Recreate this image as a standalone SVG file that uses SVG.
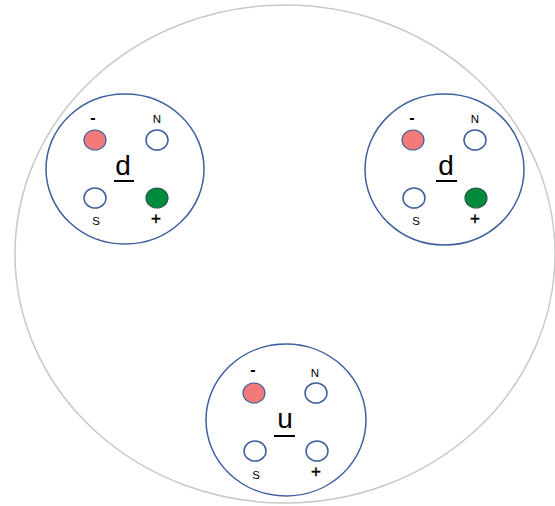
<svg xmlns="http://www.w3.org/2000/svg" width="555" height="506" viewBox="0 0 555 506">
<style>
.outer{fill:none;stroke:#c8c8c8;stroke-width:1.5}
.node{fill:#fff;stroke:#3f5f9f;stroke-width:1.5}
.hole{fill:#fff;stroke:#3f5f9f;stroke-width:1.5}
.neg{fill:#f47a7a;stroke:#3f5f9f;stroke-width:1.2}
.pos{fill:#008a3c;stroke:#2a5a4a;stroke-width:1.2}
.sm{font-family:"Liberation Sans",Arial,sans-serif;font-size:11.5px;fill:#000;text-anchor:middle}
.dash{font-family:"Liberation Sans",Arial,sans-serif;font-size:16px;font-weight:bold;fill:#000;text-anchor:middle}
.plus{font-family:"Liberation Sans",Arial,sans-serif;font-size:17px;fill:#000;stroke:#000;stroke-width:0.4;text-anchor:middle}
.big{font-family:"Liberation Sans",Arial,sans-serif;font-size:28px;fill:#000;text-anchor:middle}
.ul{stroke:#000;stroke-width:2}
</style>
<rect width="555" height="506" fill="#fff"/>
<ellipse class="outer" cx="285" cy="254" rx="270" ry="249"/>
<g id="connectors"></g>
<g id="d_left">
<ellipse class="node" cx="125" cy="169" rx="79" ry="75"/>
<ellipse class="neg" cx="95" cy="140" rx="11" ry="10"/>
<ellipse class="hole" cx="157" cy="140" rx="11" ry="10"/>
<ellipse class="hole" cx="95" cy="198" rx="11" ry="10"/>
<ellipse class="pos" cx="157" cy="198" rx="11" ry="10"/>
<text class="dash" x="93" y="123">-</text>
<text class="sm" x="157" y="123">N</text>
<text class="sm" x="96" y="225">S</text>
<text class="plus" x="156" y="224">+</text>
<text class="big" x="123" y="175">d</text>
<line class="ul" x1="114" y1="181" x2="134" y2="181"/>
</g>
<g id="d_right">
<ellipse class="node" cx="444.5" cy="169.5" rx="79.5" ry="75.5"/>
<ellipse class="neg" cx="413" cy="140" rx="11" ry="10"/>
<ellipse class="hole" cx="475" cy="140" rx="11" ry="10"/>
<ellipse class="hole" cx="414" cy="198" rx="11" ry="10"/>
<ellipse class="pos" cx="476" cy="198" rx="11" ry="10"/>
<text class="dash" x="412" y="123">-</text>
<text class="sm" x="475" y="123">N</text>
<text class="sm" x="416" y="225">S</text>
<text class="plus" x="475" y="224">+</text>
<text class="big" x="446" y="175">d</text>
<line class="ul" x1="436" y1="181" x2="457" y2="181"/>
</g>
<g id="u_bottom">
<ellipse class="node" cx="286" cy="420" rx="80" ry="76"/>
<ellipse class="neg" cx="254" cy="393" rx="11" ry="10"/>
<ellipse class="hole" cx="316" cy="393" rx="11" ry="10"/>
<ellipse class="hole" cx="255" cy="451" rx="11" ry="10"/>
<ellipse class="hole" cx="317" cy="451" rx="11" ry="10"/>
<text class="dash" x="253" y="375">-</text>
<text class="sm" x="315" y="377">N</text>
<text class="sm" x="256" y="479">S</text>
<text class="plus" x="316" y="477">+</text>
<text class="big" x="285" y="428">u</text>
<line class="ul" x1="274" y1="436" x2="295" y2="436"/>
</g>
</svg>
